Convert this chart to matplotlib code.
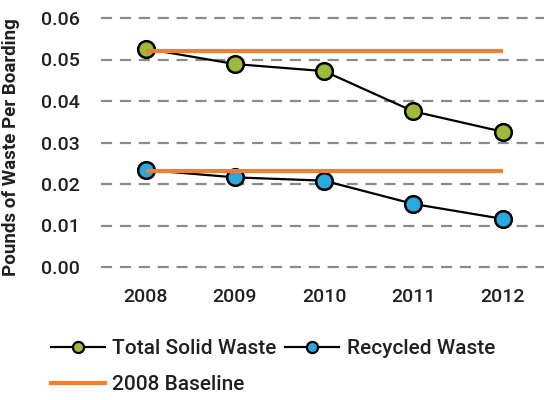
import matplotlib
matplotlib.use("Agg")
import matplotlib.pyplot as plt
from matplotlib.lines import Line2D

plt.rcParams['font.family'] = ['Roboto', 'DejaVu Sans']
plt.rcParams['font.weight'] = 'medium'

years = ["2008", "2009", "2010", "2011", "2012"]
total_solid = [0.0526, 0.0489, 0.0472, 0.0375, 0.0326]
recycled = [0.0234, 0.0216, 0.0208, 0.0152, 0.0116]
baseline_total = 0.0521
baseline_recycled = 0.0231
y_ticks = [0.00, 0.01, 0.02, 0.03, 0.04, 0.05, 0.06]

green = "#9CBB3A"
blue = "#2AA9E0"
orange = "#EF7F32"
text_color = "#231F20"

fig = plt.figure(figsize=(5.44, 4.0), dpi=100)
ax = fig.add_axes([101 / 544, 133 / 400, 443 / 544, 249 / 400])

x = list(range(len(years)))

ax.plot(x, total_solid, color="black", lw=1.6, marker="o", ms=12,
        mfc=green, mec="black", mew=1.8, zorder=3, label="Total Solid Waste")
ax.plot(x, recycled, color="black", lw=1.6, marker="o", ms=12,
        mfc=blue, mec="black", mew=1.8, zorder=3, label="Recycled Waste")
ax.plot([x[0], x[-1]], [baseline_total] * 2, color=orange, lw=3, zorder=4,
        solid_capstyle="butt", label="2008 Baseline")
ax.plot([x[0], x[-1]], [baseline_recycled] * 2, color=orange, lw=3, zorder=4,
        solid_capstyle="butt")

ax.set_xlim(-0.5, 4.464)
ax.set_ylim(0, 0.06)
ax.set_yticks(y_ticks)
ax.set_yticklabels([f"{v:.2f}" for v in y_ticks])
ax.set_xticks(x)
ax.set_xticklabels(years)

for v in y_ticks:
    ax.axhline(v, color="#8A8A8A", lw=1.6, ls=(0, (5, 3.5)), zorder=1, clip_on=False)

for s in ax.spines.values():
    s.set_visible(False)
ax.tick_params(axis="both", length=0, labelsize=14, colors=text_color, labelcolor=text_color)
ax.tick_params(axis="y", pad=15)
ax.tick_params(axis="x", pad=15)

ax.set_ylabel("Pounds of Waste Per Boarding", fontsize=13.5, fontweight="bold",
              color=text_color)
ax.yaxis.set_label_coords(-0.183, 0.48)

h_total = Line2D([], [], color="black", lw=1.6, marker="o", ms=8,
                 mfc=green, mec="black", mew=1.6)
h_rec = Line2D([], [], color="black", lw=1.6, marker="o", ms=8,
               mfc=blue, mec="black", mew=1.6)
h_base = Line2D([], [], color=orange, lw=3)
leg = fig.legend([h_total, h_base, h_rec],
                 ["Total Solid Waste", "2008 Baseline", "Recycled Waste"],
                 ncol=2, loc="upper left", bbox_to_anchor=(51 / 544, 1 - 339 / 400),
                 frameon=False, fontsize=15, handlelength=2.6, handletextpad=0.35,
                 columnspacing=0.4, labelspacing=0.82, borderaxespad=0, borderpad=0)
for t in leg.get_texts():
    t.set_color(text_color)

fig.savefig("out.png", dpi=100)
